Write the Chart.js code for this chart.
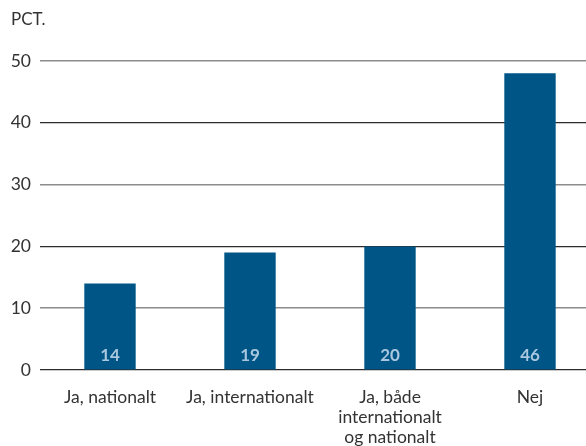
<!DOCTYPE html>
<html>
<head>
<meta charset="utf-8">
<script src="https://cdn.jsdelivr.net/npm/chart.js@4.4.1/dist/chart.umd.min.js"></script>
<style>
  html, body { margin: 0; padding: 0; background: #fff; overflow: hidden; }
  #wrap { width: 586px; height: 446px; overflow: hidden; }
</style>
</head>
<body>
<div id="wrap"><canvas id="chart" width="600" height="446"></canvas></div>
<script>
// categories, bar heights and the numbers printed inside the bars
const categories = ['Ja, nationalt', 'Ja, internationalt', ['Ja, både', 'internationalt', 'og nationalt'], 'Nej'];
const barValues = [14, 19, 20, 48];
const printedLabels = ['14', '19', '20', '46'];
const yTicks = [0, 10, 20, 30, 40, 50];

const FONT = 'Lato, "Open Sans", sans-serif';

// "PCT." at top-left and the numbers inside the bars
const labelsPlugin = {
  id: 'labelsPlugin',
  afterDatasetsDraw(chart) {
    const c = chart.ctx;
    c.save();
    c.font = '17px ' + FONT;
    c.fillStyle = '#333';
    c.textAlign = 'left';
    c.textBaseline = 'alphabetic';
    c.fillText('PCT.', 11, 25);

    c.font = 'bold 17px ' + FONT;
    c.fillStyle = '#a9c7df';
    c.textAlign = 'center';
    const meta = chart.getDatasetMeta(0);
    meta.data.forEach((bar, i) => {
      c.fillText(printedLabels[i], bar.x, chart.chartArea.bottom - 9.5);
    });
    c.restore();
  }
};

const ctx = document.getElementById('chart').getContext('2d');

const chart = new Chart(ctx, {
  type: 'bar',
  data: {
    labels: categories,
    datasets: [{
      data: barValues,
      backgroundColor: '#005587',
      borderWidth: 0,
      barPercentage: 0.367,
      categoryPercentage: 1
    }]
  },
  options: {
    responsive: false,
    animation: false,
    layout: { padding: { top: 61, left: 0, right: 0, bottom: 0 } },
    plugins: {
      legend: { display: false },
      tooltip: { enabled: false }
    },
    scales: {
      x: {
        grid: { display: false },
        border: { display: false },
        ticks: {
          color: '#333',
          font: { family: FONT, size: 17.5, lineHeight: 1.15 },
          padding: 9,
          maxRotation: 0
        },
        afterFit(scale) { scale.height = 76; }
      },
      y: {
        min: 0,
        max: 50,
        afterBuildTicks(scale) { scale.ticks = yTicks.map(v => ({ value: v })); },
        grid: {
          drawTicks: false,
          color: c => (c.tick && c.tick.value % 20 === 0) ? '#2b2b2b' : '#8c8c8c',
          lineWidth: c => (c.tick && c.tick.value % 20 === 0) ? 1.2 : 1.5
        },
        border: { display: false },
        ticks: {
          color: '#333',
          font: { family: FONT, size: 17.5 },
          padding: 9
        },
        afterFit(scale) { scale.width = 40; }
      }
    }
  },
  plugins: [labelsPlugin]
});
</script>
</body>
</html>
